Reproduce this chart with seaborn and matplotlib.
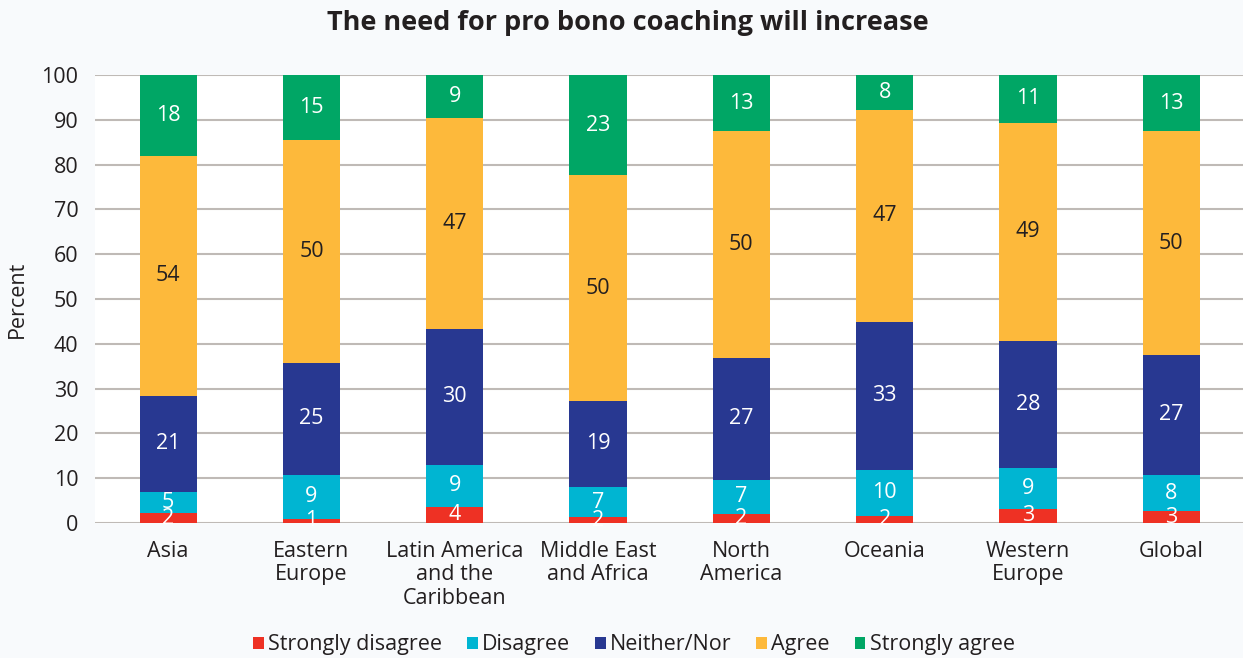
import numpy as np
import pandas as pd
import matplotlib
matplotlib.use("Agg")
import matplotlib.pyplot as plt
from matplotlib.patches import Patch
import seaborn as sns

regions = ["Asia", "Eastern\nEurope", "Latin America\nand the\nCaribbean",
           "Middle East\nand Africa", "North\nAmerica", "Oceania",
           "Western\nEurope", "Global"]
series = ["Strongly disagree", "Disagree", "Neither/Nor", "Agree", "Strongly agree"]

strongly_disagree = [2.2, 1.0, 3.7, 1.3, 2.1, 1.6, 3.2, 2.6]
disagree          = [4.8, 9.7, 9.2, 6.8, 7.6, 10.3, 9.2, 8.2]
neither_nor       = [21.4, 25.1, 30.5, 19.2, 27.2, 33.0, 28.3, 26.7]
agree             = [53.6, 49.8, 47.1, 50.3, 50.5, 47.4, 48.7, 49.9]
strongly_agree    = [18.0, 14.4, 9.5, 22.4, 12.6, 7.7, 10.6, 12.6]

sd_labels = [2, 1, 4, 2, 2, 2, 3, 3]
d_labels  = [5, 9, 9, 7, 7, 10, 9, 8]
n_labels  = [21, 25, 30, 19, 27, 33, 28, 27]
a_labels  = [54, 50, 47, 50, 50, 47, 49, 50]
sa_labels = [18, 15, 9, 23, 13, 8, 11, 13]

yticks = [0, 10, 20, 30, 40, 50, 60, 70, 80, 90, 100]

values = [strongly_disagree, disagree, neither_nor, agree, strongly_agree]
labels = [sd_labels, d_labels, n_labels, a_labels, sa_labels]
colors = ["#EE3124", "#00B5D2", "#283891", "#FDB93B", "#00A665"]
text_colors = ["white", "white", "white", "#231F20", "white"]

FS = 15.5

sns.set_theme(style="white")
plt.rcParams["font.family"] = ["Open Sans", "DejaVu Sans"]

fig = plt.figure(figsize=(12.43, 6.58), dpi=100, facecolor="#F8FAFC")
ax = fig.add_axes([0.0765, 0.205, 0.9235, 0.681])
ax.set_facecolor("white")

arr = np.array(values)
cum = np.cumsum(arr, axis=0)

for i in range(len(series) - 1, -1, -1):
    df = pd.DataFrame({"region": regions, "value": cum[i]})
    sns.barplot(data=df, x="region", y="value", order=regions, color=colors[i],
                width=0.4, linewidth=0, saturation=1, ax=ax, errorbar=None,
                zorder=3)

for i in range(len(series)):
    for j in range(len(regions)):
        bottom = cum[i][j] - arr[i][j]
        ax.text(j, bottom + arr[i][j] / 2, str(labels[i][j]), ha="center",
                va="center", fontsize=FS, color=text_colors[i], zorder=5)

ax.set_xlim(-0.51, 7.5)
ax.set_ylim(0, 100)
ax.set_yticks(yticks)
ax.set_yticklabels([str(t) for t in yticks], fontsize=FS, color="#231F20")
ax.tick_params(axis="y", length=0, pad=12)
ax.tick_params(axis="x", length=0, pad=13, labelsize=FS, labelcolor="#231F20")
for lbl in ax.get_xticklabels():
    lbl.set_linespacing(1.14)
ax.grid(axis="y", color="#BFBAB6", linewidth=1.5, zorder=0)
ax.set_axisbelow(True)
for s in ax.spines.values():
    s.set_visible(False)
ax.set_xlabel("")
ax.set_ylabel("Percent", fontsize=FS, color="#231F20", labelpad=10)

fig.suptitle("The need for pro bono coaching will increase", x=0.505, y=0.985,
             fontsize=19.5, fontweight="bold", color="#231F20", va="top")

handles = [Patch(facecolor=c, edgecolor="none") for c in colors]
fig.legend(handles, series, loc="center", bbox_to_anchor=(0.51, 0.02),
           ncol=5, frameon=False, fontsize=FS, handlelength=0.5,
           handleheight=0.5, handletextpad=0.2, columnspacing=1.15,
           labelcolor="#231F20")

fig.savefig("out.png", dpi=100, facecolor=fig.get_facecolor())
